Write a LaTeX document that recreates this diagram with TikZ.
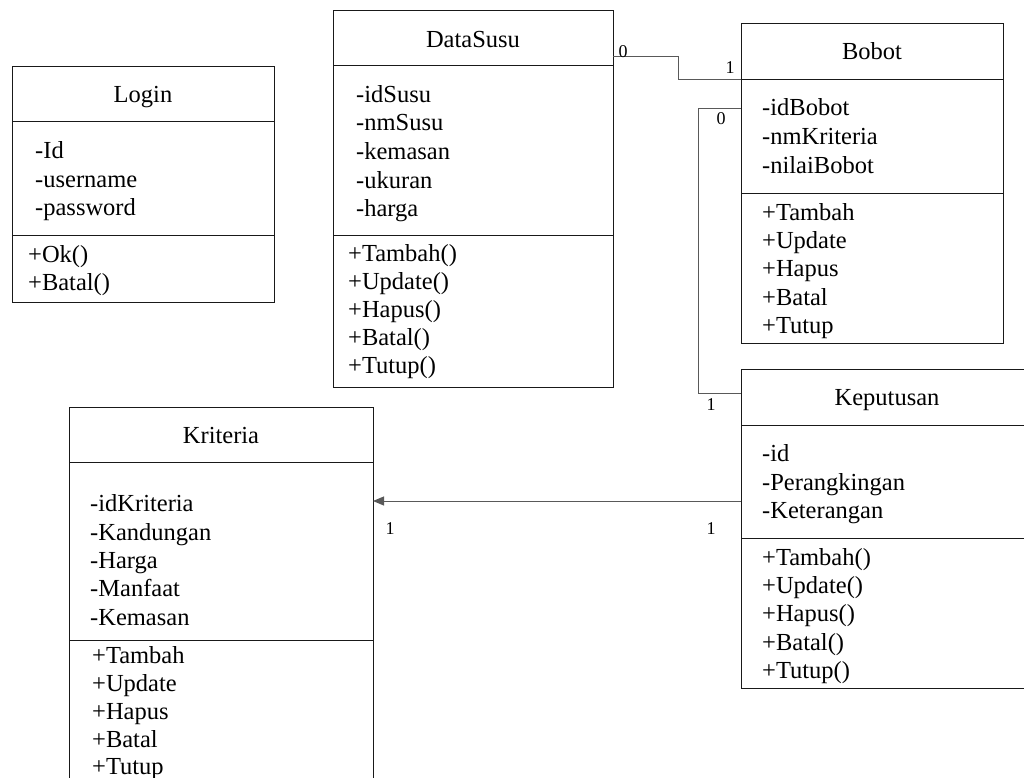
\documentclass[tikz,border=0pt]{standalone}
\usepackage{fontspec}
\setmainfont{Liberation Serif}
\usetikzlibrary{arrows.meta}
\begin{document}
\begin{tikzpicture}[x=1pt,y=-1pt,
  box/.style={draw=black!90,line width=1pt,anchor=north west,inner sep=0,outer sep=0},
  sep/.style={draw=black!90,line width=1pt},
  txt/.style={inner sep=0,anchor=base west,font=\fontsize{24.5}{28}\selectfont},
  ttl/.style={inner sep=0,anchor=base,font=\fontsize{24.5}{28}\selectfont},
  mult/.style={inner sep=0,font=\fontsize{18}{20}\selectfont},
  conn/.style={draw=black!65,line width=1pt}]
\useasboundingbox (0,0) rectangle (1024,778);
\clip (0,0) rectangle (1024,778);

% ---------- Login ----------
\node[box,minimum width=262pt,minimum height=235pt] (login) at (12,67) {};
\draw[sep] (login.west |- 0,122) -- (login.east |- 0,122);
\draw[sep] (login.west |- 0,235) -- (login.east |- 0,235);
\node[ttl] (login-t) at (143,103) {Login};
\foreach \t/\y [count=\i] in {-Id/159,-username/187,-password/215}
  \node[txt] (login-a\i) at (35,\y) {\t};
\foreach \t/\y [count=\i] in {+Ok()/262,+Batal()/290}
  \node[txt] (login-m\i) at (28,\y) {\t};

% ---------- DataSusu ----------
\node[box,minimum width=280pt,minimum height=376pt] (ds) at (333,11) {};
\draw[sep] (ds.west |- 0,66) -- (ds.east |- 0,66);
\draw[sep] (ds.west |- 0,235) -- (ds.east |- 0,235);
\node[ttl] (ds-t) at (473,48) {DataSusu};
\foreach \t/\y [count=\i] in {-idSusu/103,-nmSusu/131,-kemasan/160,-ukuran/188,-harga/216}
  \node[txt] (ds-a\i) at (356,\y) {\t};
\foreach \t/\y [count=\i] in {+Tambah()/261,+Update()/289,+Hapus()/317,+Batal()/345,+Tutup()/373}
  \node[txt] (ds-m\i) at (348,\y) {\t};

% ---------- Bobot ----------
\node[box,minimum width=262pt,minimum height=319pt] (bobot) at (741,24) {};
\draw[sep] (bobot.west |- 0,80) -- (bobot.east |- 0,80);
\draw[sep] (bobot.west |- 0,193) -- (bobot.east |- 0,193);
\node[ttl] (bobot-t) at (872,60) {Bobot};
\foreach \t/\y [count=\i] in {-idBobot/116,-nmKriteria/145,-nilaiBobot/173}
  \node[txt] (bobot-a\i) at (762,\y) {\t};
\foreach \t/\y [count=\i] in {+Tambah/220,+Update/248,+Hapus/276,+Batal/305,+Tutup/333}
  \node[txt] (bobot-m\i) at (762,\y) {\t};

% ---------- Keputusan ----------
\node[box,minimum width=292pt,minimum height=319pt] (kep) at (741,369) {};
\draw[sep] (kep.west |- 0,425) -- (kep.east |- 0,425);
\draw[sep] (kep.west |- 0,538) -- (kep.east |- 0,538);
\node[ttl] (kep-t) at (887,405) {Keputusan};
\foreach \t/\y [count=\i] in {-id/461,-Perangkingan/490,-Keterangan/518}
  \node[txt] (kep-a\i) at (762,\y) {\t};
\foreach \t/\y [count=\i] in {+Tambah()/565,+Update()/593,+Hapus()/621,+Batal()/650,+Tutup()/678}
  \node[txt] (kep-m\i) at (762,\y) {\t};

% ---------- Kriteria ----------
\node[box,minimum width=304pt,minimum height=390pt] (krit) at (69,407) {};
\draw[sep] (krit.west |- 0,462) -- (krit.east |- 0,462);
\draw[sep] (krit.west |- 0,640) -- (krit.east |- 0,640);
\node[ttl] (krit-t) at (221,443) {Kriteria};
\foreach \t/\y [count=\i] in {-idKriteria/511,-Kandungan/540,-Harga/568,-Manfaat/596,-Kemasan/625}
  \node[txt] (krit-a\i) at (90,\y) {\t};
\foreach \t/\y [count=\i] in {+Tambah/663,+Update/691,+Hapus/719,+Batal/747,+Tutup/774}
  \node[txt] (krit-m\i) at (92,\y) {\t};

% ---------- connectors ----------
\draw[conn] (ds.east |- 0,57) -| (678,80) -- (bobot.west |- 0,80);
\draw[conn] (bobot.west |- 0,109) -| (698,393) -- (kep.west |- 0,393);
\draw[conn,-{Triangle[length=11pt,width=9pt]}] (kep.west |- 0,501) -- (krit.east |- 0,501);

% ---------- multiplicities ----------
\node[mult] (m1) at (623,52) {0};
\node[mult] (m2) at (730,68) {1};
\node[mult] (m3) at (721,119) {0};
\node[mult] (m4) at (711,405) {1};
\node[mult] (m5) at (390,529) {1};
\node[mult] (m6) at (711,529) {1};
\end{tikzpicture}
\end{document}
